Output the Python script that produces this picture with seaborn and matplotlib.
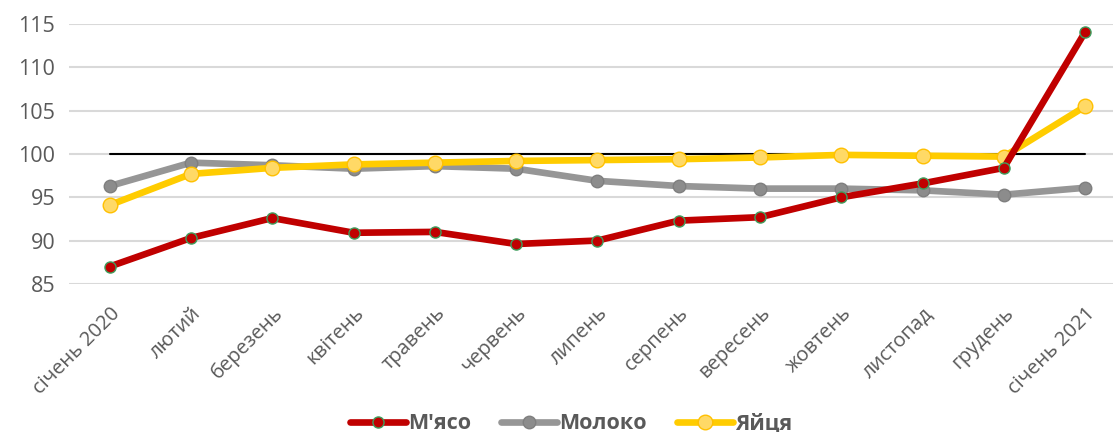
import pandas as pd
import seaborn as sns
import matplotlib.pyplot as plt

# Дані (індекси цін, січень 2020 - січень 2021)
months = ['січень 2020', 'лютий', 'березень', 'квітень', 'травень', 'червень',
          'липень', 'серпень', 'вересень', 'жовтень', 'листопад', 'грудень',
          'січень 2021']
meat = [87.0, 90.3, 92.6, 90.9, 91.0, 89.6, 90.0, 92.3, 92.7, 95.0, 96.6, 98.4, 114.1]
milk = [96.3, 99.0, 98.7, 98.3, 98.6, 98.3, 96.9, 96.3, 96.0, 96.0, 95.8, 95.3, 96.1]
eggs = [94.1, 97.7, 98.4, 98.8, 99.0, 99.2, 99.3, 99.4, 99.6, 99.9, 99.8, 99.7, 105.5]
base = [100] * len(months)

sns.set_theme(style='white')
plt.rcParams['font.family'] = ['Open Sans', 'DejaVu Sans']

x = list(range(len(months)))
fig = plt.figure(figsize=(11.15, 4.32), dpi=100)
ax = fig.add_axes([0.062, 0.343, 0.936, 0.601])

for v in [85, 90, 95, 100, 105, 110, 115]:
    ax.axhline(v, color='#d9d9d9', lw=1.5, zorder=0)

sns.lineplot(x=x, y=base, ax=ax, color='black', lw=1.5, zorder=2)
sns.lineplot(x=x, y=milk, ax=ax, color='#969696', lw=4.8, marker='o', markersize=9,
             markerfacecolor='#8c8c8c', markeredgecolor='#7f7f7f', markeredgewidth=1,
             label='Молоко', zorder=3)
sns.lineplot(x=x, y=eggs, ax=ax, color='#ffcc00', lw=4.8, marker='o', markersize=10.5,
             markerfacecolor='#ffd966', markeredgecolor='#ffc000', markeredgewidth=1,
             label='Яйця', zorder=4)
sns.lineplot(x=x, y=meat, ax=ax, color='#c00000', lw=4.8, marker='o', markersize=8,
             markerfacecolor='#c00000', markeredgecolor='#3f9f5f', markeredgewidth=1,
             label="М'ясо", zorder=5)

ax.set_xlim(-0.5, 12.34)
ax.set_ylim(85, 115)
ax.set_yticks([85, 90, 95, 100, 105, 110, 115])
ax.set_xticks(x)
ax.set_xticklabels(months, rotation=45, ha='right', rotation_mode='anchor')
ax.tick_params(axis='x', labelsize=14.5, colors='#595959', length=0, pad=14)
ax.tick_params(axis='y', labelsize=15.5, colors='#595959', length=0, pad=10)
for s in ax.spines.values():
    s.set_visible(False)
ax.grid(False)

h, l = ax.get_legend_handles_labels()
order = [l.index("М'ясо"), l.index('Молоко'), l.index('Яйця')]
ax.get_legend().remove()
leg = fig.legend([h[i] for i in order], [l[i] for i in order], loc='center',
                 bbox_to_anchor=(0.512, 0.02), ncol=3, frameon=False,
                 prop={'size': 15.5, 'weight': 'bold'}, handlelength=2.6,
                 columnspacing=1.4, handletextpad=0.1)
for t in leg.get_texts():
    t.set_color('#595959')

fig.savefig('out.png', dpi=100)
